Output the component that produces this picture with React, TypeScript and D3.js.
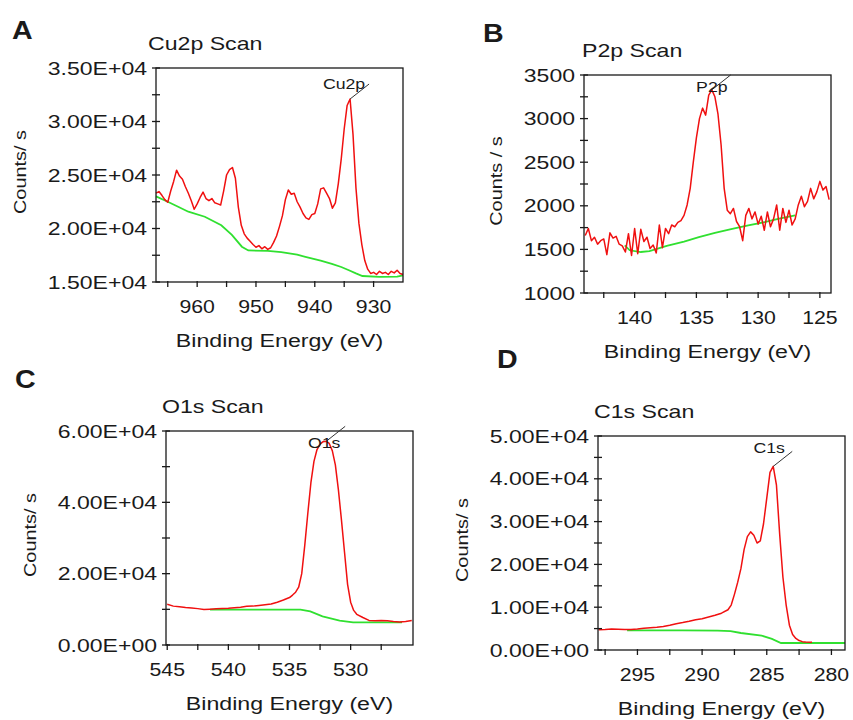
import React from 'react'
import * as d3 from 'd3'

type Pt = [number, number]

// ---- Cu2p scan (A) ----
const cuSpectrum: Pt[] = [
  [967.0, 23300], [966.5, 23450], [966.0, 23100], [965.5, 22700], [965.0, 22450], [964.5, 23500],
  [964.0, 24400], [963.5, 25450], [963.0, 24900], [962.5, 24600], [962.0, 23900], [961.5, 23300],
  [961.0, 22600], [960.5, 21800], [960.0, 22300], [959.5, 22900], [959.0, 23400], [958.5, 22800],
  [958.0, 22600], [957.5, 22800], [957.0, 22400], [956.5, 22300], [956.0, 22200], [955.5, 23500],
  [955.0, 25000], [954.5, 25500], [954.0, 25700], [953.5, 24700], [953.0, 22000], [952.5, 20300],
  [952.0, 19500], [951.5, 19100], [951.0, 18800], [950.5, 18500], [950.0, 18250], [949.5, 18400],
  [949.0, 18100], [948.5, 18300], [948.0, 18050], [947.5, 18200], [947.0, 18700], [946.5, 19300],
  [946.0, 20200], [945.5, 21200], [945.0, 22700], [944.5, 23600], [944.0, 23200], [943.5, 23300],
  [943.0, 22500], [942.5, 22000], [942.0, 21400], [941.5, 21000], [941.0, 20850], [940.5, 21300],
  [940.0, 21400], [939.5, 22300], [939.0, 23700], [938.5, 23800], [938.0, 23300], [937.5, 22800],
  [937.0, 21900], [936.5, 22400], [936.0, 24200], [935.5, 26500], [935.0, 29300], [934.5, 31500],
  [934.0, 32100], [933.5, 28800], [933.0, 23800], [932.5, 20500], [932.0, 18500], [931.5, 17000],
  [931.0, 16200], [930.5, 15800], [930.0, 15900], [929.5, 15700], [929.0, 16000], [928.5, 15800],
  [928.0, 15900], [927.5, 15700], [927.0, 16000], [926.5, 15850], [926.0, 16100], [925.5, 15800],
  [925.0, 15700],
]
const cuBackground: Pt[] = [
  [967, 23000], [965, 22500], [963.5, 22100], [961.5, 21570], [958.7, 21100], [955.9, 20300],
  [954.1, 19400], [952.4, 18300], [951.3, 17950], [948, 17900], [945.7, 17800], [943, 17550],
  [941.6, 17350], [939, 17000], [937.1, 16700], [935.5, 16400], [934.2, 16100], [933, 15800],
  [931.9, 15560], [929, 15470], [926, 15500], [925, 15620],
]
const cuXMajor = [960, 950, 940, 930]
const cuXMinor = [965, 955, 945, 935]
const cuYMajor = [15000, 20000, 25000, 30000, 35000]
const cuYMinor = [17500, 22500, 27500, 32500]

// ---- P2p scan (B) ----
const pSpectrum: Pt[] = [
  [144.0, 1660], [143.75, 1740], [143.5, 1600], [143.25, 1640], [143.0, 1560], [142.75, 1600],
  [142.5, 1620], [142.25, 1440], [142.0, 1690], [141.75, 1630], [141.5, 1650], [141.25, 1560],
  [141.0, 1540], [140.75, 1470], [140.5, 1680], [140.25, 1430], [140.0, 1740], [139.75, 1450],
  [139.5, 1730], [139.25, 1590], [139.0, 1640], [138.75, 1510], [138.5, 1550], [138.25, 1460],
  [138.0, 1780], [137.75, 1520], [137.5, 1740], [137.25, 1680], [137.0, 1780], [136.75, 1760],
  [136.5, 1810], [136.25, 1830], [136.0, 1890], [135.75, 2010], [135.5, 2200], [135.25, 2500],
  [135.0, 2780], [134.75, 3000], [134.5, 3120], [134.25, 3040], [134.0, 3270], [133.75, 3330],
  [133.5, 3250], [133.25, 3050], [133.0, 2700], [132.75, 2200], [132.5, 1950], [132.25, 1910],
  [132.0, 1970], [131.75, 1820], [131.5, 1760], [131.25, 1600], [131.0, 1890], [130.75, 1970],
  [130.5, 1850], [130.25, 1930], [130.0, 1790], [129.75, 1880], [129.5, 1720], [129.25, 1930],
  [129.0, 1760], [128.75, 1850], [128.5, 2010], [128.25, 1720], [128.0, 1970], [127.75, 1810],
  [127.5, 1950], [127.25, 1780], [127.0, 1850], [126.75, 2010], [126.5, 2110], [126.25, 1990],
  [126.0, 2050], [125.75, 2200], [125.5, 2080], [125.25, 2160], [125.0, 2280], [124.75, 2180],
  [124.5, 2220], [124.25, 2070],
]
const pBackground: Pt[] = [
  [140.8, 1547], [140.4, 1490], [139.5, 1470], [138.8, 1480], [138.2, 1505], [137.4, 1540],
  [136.0, 1590], [134.8, 1640], [133.5, 1690], [132.1, 1735], [130.8, 1775], [129.4, 1815],
  [128.2, 1855], [127.0, 1890],
]
const pXMajor = [140, 135, 130, 125]
const pXMinor = [142.5, 137.5, 132.5, 127.5]
const pYMajor = [1000, 1500, 2000, 2500, 3000, 3500]
const pYMinor = [1250, 1750, 2250, 2750, 3250]

// ---- O1s scan (C) ----
const oSpectrum: Pt[] = [
  [545.0, 11400], [544.5, 10900], [544.0, 10700], [543.5, 10500], [543.0, 10400], [542.5, 10200],
  [542.0, 9950], [541.5, 10050], [541.0, 10150], [540.5, 10250], [540.0, 10300], [539.5, 10450],
  [539.0, 10600], [538.5, 10850], [538.0, 10900], [537.5, 11100], [537.0, 11300], [536.5, 11500],
  [536.0, 12000], [535.5, 12600], [535.0, 13300], [534.75, 14000], [534.5, 14800], [534.25, 16200],
  [534.0, 20000], [533.75, 28000], [533.5, 37000], [533.25, 45500], [533.0, 51500], [532.75, 54800],
  [532.5, 56300], [532.25, 57000], [532.0, 57100], [531.75, 56500], [531.5, 54500], [531.25, 50500],
  [531.0, 43500], [530.75, 35000], [530.5, 26000], [530.25, 17000], [530.0, 12000], [529.75, 9700],
  [529.5, 8600], [529.0, 7700], [528.5, 6900], [528.0, 6800], [527.5, 6850], [527.0, 6800],
  [526.5, 6600], [526.0, 6450], [525.5, 6600], [525.0, 6850],
]
const oBackground: Pt[] = [
  [541.5, 9900], [538.5, 9900], [534.1, 9900], [533.3, 9440], [532.3, 8050], [530.9, 6830],
  [529.8, 6360], [525.8, 6360],
]
const oXMajor = [545, 540, 535, 530]
const oXMinor = [542.5, 537.5, 532.5, 527.5]
const oYMajor = [0, 20000, 40000, 60000]
const oYMinor = [10000, 30000, 50000]

// ---- C1s scan (D) ----
const cSpectrum: Pt[] = [
  [298.0, 4750], [297.5, 4800], [297.0, 4900], [296.5, 4850], [296.0, 4800], [295.5, 4800],
  [295.0, 4900], [294.5, 5100], [294.0, 5200], [293.5, 5300], [293.0, 5500], [292.5, 5800],
  [292.0, 6150], [291.5, 6400], [291.0, 6700], [290.5, 7050], [290.0, 7300], [289.5, 7700],
  [289.0, 8100], [288.5, 8600], [288.0, 9400], [287.75, 10500], [287.5, 13000], [287.25, 15800],
  [287.0, 19000], [286.75, 23500], [286.5, 26500], [286.25, 27600], [286.0, 26800], [285.75, 25000],
  [285.5, 25500], [285.25, 29500], [285.0, 35500], [284.75, 41500], [284.5, 42900], [284.25, 38500],
  [284.0, 27000], [283.75, 17000], [283.5, 10500], [283.25, 5800], [283.0, 3600], [282.75, 2700],
  [282.5, 2200], [282.25, 1950], [282.0, 1850], [281.5, 1800],
]
const cBackground: Pt[] = [
  [295.8, 4600], [291.5, 4590], [288.8, 4510], [287.8, 4400], [287.0, 3970], [285.4, 3350],
  [284.6, 2600], [283.9, 1630], [279.0, 1630], [278.95, 1630],
]
const cXMajor = [295, 290, 285, 280]
const cXMinor = [297.5, 292.5, 287.5, 282.5]
const cYMajor = [0, 10000, 20000, 30000, 40000, 50000]
const cYMinor = [5000, 15000, 25000, 35000, 45000]

const FONT = '"Liberation Sans", Arial, Helvetica, sans-serif'
const INK = '#1a1a1a'
const RED = '#f01010'
const GREEN = '#30e030'

const sci = (v: number) => {
  if (v === 0) return '0.00E+00'
  const e = Math.floor(Math.log10(Math.abs(v)))
  const m = v / Math.pow(10, e)
  return `${m.toFixed(2)}E${e < 0 ? '-' : '+'}${String(Math.abs(e)).padStart(2, '0')}`
}
const plain = (v: number) => String(v)

function Txt({ x, y, sx = 1.2, size, anchor = 'start', rot = 0, weight = 'normal', children }: any) {
  return (
    <text
      transform={`translate(${x},${y}) rotate(${rot}) scale(${sx},1)`}
      fontSize={size}
      fontFamily={FONT}
      fontWeight={weight}
      textAnchor={anchor}
      fill={INK}
    >
      {children}
    </text>
  )
}

function Panel(p: any) {
  const { x0, y0, w, h } = p.box
  const x = d3.scaleLinear().domain(p.xDomain).range([x0, x0 + w])
  const y = d3.scaleLinear().domain(p.yDomain).range([y0 + h, y0])
  const line = d3.line<Pt>().x(d => x(d[0])).y(d => y(d[1]))
  const peak = d3.greatest(p.spectrum as Pt[], d => d[1])!
  const px = x(peak[0])
  const py = y(peak[1])
  const xb = y0 + h
  return (
    <g>
      <Txt x={p.letter[1]} y={p.letter[2]} size={26} weight="bold" sx={1.1}>{p.letter[0]}</Txt>
      <Txt x={x0 + p.titleDx} y={y0 - 18} size={18.5} sx={1.25}>{p.title}</Txt>
      <Txt x={x0 + p.yLabelDx} y={y0 + h / 2 - 3} size={17} rot={-90} anchor="middle" sx={1.17}>{p.yLabel}</Txt>
      <path d={line(p.background as Pt[])!} fill="none" stroke={GREEN} strokeWidth={1.8} />
      <path d={line(p.spectrum as Pt[])!} fill="none" stroke={RED} strokeWidth={1.5} strokeLinejoin="round" />
      <rect x={x0} y={y0} width={w} height={h} fill="none" stroke={INK} strokeWidth={1.3} />
      {[...p.yMajor, ...p.yMinor].map((v: number) => (
        <line key={'yt' + v} x1={x0 - 4} x2={x0 + 4} y1={y(v)} y2={y(v)} stroke={INK} strokeWidth={1.3} />
      ))}
      {[...p.xMajor, ...p.xMinor].map((v: number) => (
        <line key={'xt' + v} x1={x(v)} x2={x(v)} y1={xb - 1} y2={xb + 5} stroke={INK} strokeWidth={1.3} />
      ))}
      {p.yMajor.map((v: number) => (
        <Txt key={'yl' + v} x={x0 - 9} y={y(v) + 6.5} size={18} anchor="end" sx={1.28}>{p.fmt(v)}</Txt>
      ))}
      {p.xMajor.map((v: number) => (
        <Txt key={'xl' + v} x={x(v)} y={xb + 31} size={19} anchor="middle" sx={1.12}>{v}</Txt>
      ))}
      <Txt x={x0 + w / 2} y={xb + 65} size={19} anchor="middle" sx={1.22}>Binding Energy (eV)</Txt>
      <line x1={px} y1={py} x2={px + 19} y2={py - 15} stroke="#333" strokeWidth={1} />
      <Txt x={px + p.peakDx} y={py + p.peakDy} size={15} anchor="middle" sx={1.18}>{p.peakLabel}</Txt>
    </g>
  )
}

export default function App() {
  return (
    <svg width={853} height={720} style={{ position: 'absolute', left: 0, top: 0, background: '#fff' }}>
      <Panel
        box={{ x0: 156, y0: 68, w: 247, h: 214 }}
        xDomain={[967, 925]} yDomain={[15000, 35000]}
        xMajor={cuXMajor} xMinor={cuXMinor} yMajor={cuYMajor} yMinor={cuYMinor}
        spectrum={cuSpectrum} background={cuBackground} fmt={sci}
        title="Cu2p Scan" titleDx={-8} letter={['A', 12, 39]}
        yLabel="Counts/ s" yLabelDx={-130} peakLabel="Cu2p" peakDx={-6} peakDy={-10}
      />
      <Panel
        box={{ x0: 584, y0: 75, w: 247, h: 218 }}
        xDomain={[144.1, 124.1]} yDomain={[1000, 3500]}
        xMajor={pXMajor} xMinor={pXMinor} yMajor={pYMajor} yMinor={pYMinor}
        spectrum={pSpectrum} background={pBackground} fmt={plain}
        title="P2p Scan" titleDx={-2} letter={['B', 483, 42]}
        yLabel="Counts / s" yLabelDx={-82} peakLabel="P2p" peakDx={0} peakDy={2}
      />
      <Panel
        box={{ x0: 166, y0: 431, w: 247, h: 214 }}
        xDomain={[545.1, 524.9]} yDomain={[0, 60000]}
        xMajor={oXMajor} xMinor={oXMinor} yMajor={oYMajor} yMinor={oYMinor}
        spectrum={oSpectrum} background={oBackground} fmt={sci}
        title="O1s Scan" titleDx={-4} letter={['C', 15, 388]}
        yLabel="Counts/ s" yLabelDx={-130} peakLabel="O1s" peakDx={-2} peakDy={7}
      />
      <Panel
        box={{ x0: 598, y0: 436, w: 247, h: 214 }}
        xDomain={[298.05, 278.95]} yDomain={[0, 50000]}
        xMajor={cXMajor} xMinor={cXMinor} yMajor={cYMajor} yMinor={cYMinor}
        spectrum={cSpectrum} background={cBackground} fmt={sci}
        title="C1s Scan" titleDx={-4} letter={['D', 497, 368]}
        yLabel="Counts/ s" yLabelDx={-130} peakLabel="C1s" peakDx={-4} peakDy={-13}
      />
    </svg>
  )
}
